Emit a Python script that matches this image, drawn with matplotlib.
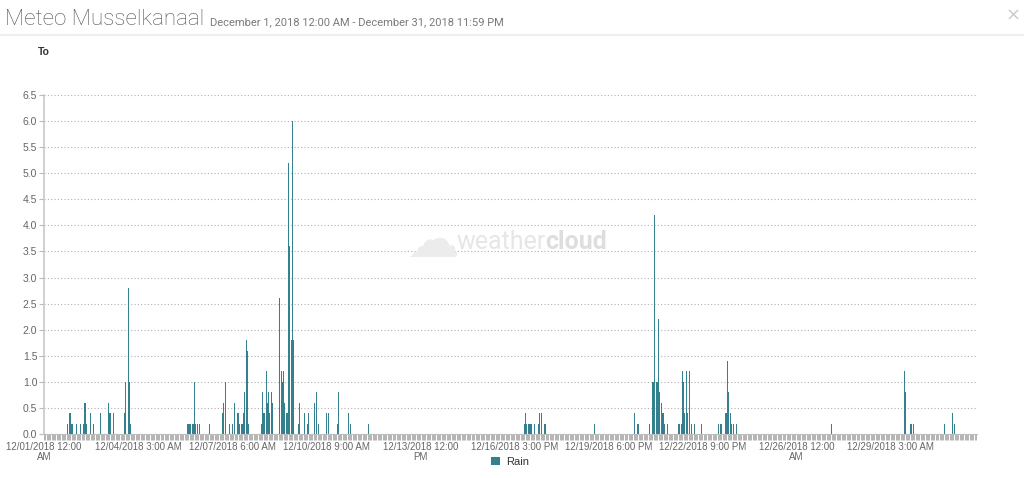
import matplotlib
matplotlib.use("Agg")
import matplotlib.pyplot as plt
from matplotlib.patches import Patch
from matplotlib.lines import Line2D
import numpy as np

# ---- data (hourly rain, December 2018; hour index from 12/01 00:00) ----
n_hours = 744
rain_hours = [19, 20, 21, 22, 23, 26, 29, 31, 32, 33, 34, 37, 39, 45, 51, 52, 53, 55,
              64, 65, 67, 68, 69,
              114, 115, 116, 117, 118, 119, 120, 121, 122, 124, 132,
              142, 143, 145, 148, 150, 152, 154, 155, 156, 157, 158, 159, 160, 161, 162, 163,
              173, 174, 175, 176, 177, 178, 179, 180, 181, 182,
              188, 189, 190, 191, 192, 193, 194, 195, 196, 197, 198, 199,
              203, 204, 208, 210, 211, 216, 217, 219, 225, 227, 234, 235, 243, 244, 259,
              383, 384, 385, 386, 387, 388, 389, 391, 394, 395, 397, 399, 400,
              439, 471, 473, 474, 483,
              485, 486, 487, 488, 489, 490, 491, 492, 493, 494, 495, 497,
              506, 507, 508, 509, 510, 511, 512, 513, 515, 516, 519, 524,
              538, 539, 540, 543, 544, 545, 546, 547, 548, 550, 552,
              628, 686, 687, 691, 692, 693, 718, 724, 726]
rain_mm = [0.2, 0.4, 0.4, 0.2, 0.2, 0.2, 0.2, 0.2, 0.6, 0.6, 0.2, 0.4, 0.2, 0.4, 0.6, 0.4, 0.4, 0.4,
           0.4, 1.0, 2.8, 1.0, 0.2,
           0.2, 0.2, 0.2, 0.2, 0.2, 0.2, 1.0, 0.2, 0.2, 0.2, 0.2,
           0.4, 0.6, 1.0, 0.2, 0.2, 0.6, 0.4, 0.4, 0.2, 0.2, 0.2, 0.4, 0.8, 1.8, 1.6, 0.2,
           0.2, 0.8, 0.4, 0.4, 1.2, 0.6, 0.8, 0.4, 0.8, 0.6,
           2.6, 1.2, 1.0, 1.2, 0.6, 0.4, 0.4, 5.2, 3.6, 1.8, 6.0, 1.8,
           0.2, 0.6, 0.4, 0.2, 0.4, 0.6, 0.8, 0.2, 0.4, 0.4, 0.2, 0.8, 0.4, 0.2, 0.2,
           0.2, 0.4, 0.2, 0.2, 0.2, 0.2, 0.2, 0.2, 0.2, 0.4, 0.4, 0.2, 0.2,
           0.2, 0.4, 0.2, 0.2, 0.2,
           1.0, 1.0, 4.2, 1.0, 1.0, 2.2, 0.8, 0.6, 0.4, 0.4, 0.2, 0.2,
           0.2, 0.2, 0.2, 1.2, 1.0, 0.4, 1.2, 0.4, 1.2, 0.2, 0.2, 0.2,
           0.2, 0.2, 0.2, 0.4, 0.4, 1.4, 0.8, 0.4, 0.2, 0.2, 0.2,
           0.2, 1.2, 0.8, 0.2, 0.2, 0.2, 0.2, 0.4, 0.2]
tick_hours = [0, 75, 150, 225, 300, 375, 450, 525, 600, 675]
tick_labels = ["12/01/2018 12:00\nAM", "12/04/2018 3:00 AM", "12/07/2018 6:00 AM",
               "12/10/2018 9:00 AM", "12/13/2018 12:00\nPM", "12/16/2018 3:00 PM",
               "12/19/2018 6:00 PM", "12/22/2018 9:00 PM", "12/26/2018 12:00\nAM",
               "12/29/2018 3:00 AM"]
y_ticks = [0.0, 0.5, 1.0, 1.5, 2.0, 2.5, 3.0, 3.5, 4.0, 4.5, 5.0, 5.5, 6.0, 6.5]

values = np.zeros(n_hours)
values[rain_hours] = rain_mm

# ---- figure ----
W, H = 1024, 478
fig = plt.figure(figsize=(W / 100, H / 100), dpi=100)
fig.patch.set_facecolor("white")

ax = fig.add_axes([43.5 / W, (H - 434) / H, 933 / W, (434 - 95) / H])
bar_color = "#35808e"
ax.bar(np.arange(n_hours), values, width=0.8, color=bar_color, linewidth=0)

ax.set_xlim(-0.5, n_hours - 0.5)
ax.set_ylim(0, 6.5)
ax.set_yticks(y_ticks)
ax.set_yticklabels([f"{v:.1f}" for v in y_ticks])
ax.yaxis.grid(True, linestyle=(0, (1, 2)), color="#b0b0b0", linewidth=0.8)
ax.set_axisbelow(True)

ax.set_xticks(tick_hours)
ax.set_xticklabels(tick_labels, linespacing=1.0)
ax.set_xticks(np.arange(n_hours), minor=True)

for s in ["top", "right"]:
    ax.spines[s].set_visible(False)
ax.spines["left"].set_color("#c8c8c8")
ax.spines["left"].set_linewidth(1.2)
ax.spines["bottom"].set_color("#bdbdbd")
ax.spines["bottom"].set_linewidth(0.8)

ax.tick_params(axis="y", direction="out", length=3.5, width=0.8, color="#bbbbbb",
               labelcolor="#666666", labelsize=7.5, pad=1)
ax.tick_params(axis="x", which="major", direction="out", length=4, width=0.6,
               color="#a8a8a8", labelcolor="#666666", labelsize=7.0, pad=2)
ax.tick_params(axis="x", which="minor", direction="out", length=4, width=0.6,
               color="#a8a8a8")
for lab in ax.get_xticklabels() + ax.get_yticklabels():
    lab.set_fontfamily("Liberation Sans")

# ---- header ----
fig.text(5 / W, 1 - 25 / H, "Meteo Musselkanaal", fontsize=16.1, color="#555555",
         family="Roboto", fontweight="light", ha="left", va="baseline")
fig.text(210 / W, 1 - 25 / H, "December 1, 2018 12:00 AM - December 31, 2018 11:59 PM",
         fontsize=8, color="#7a7a7a", family="Roboto", ha="left", va="baseline")
fig.text(1013 / W, 1 - 16 / H, "\u00d7", fontsize=13, color="#cccccc", ha="center",
         va="center", family="DejaVu Sans")
fig.add_artist(Line2D([0, 1], [1 - 35 / H, 1 - 35 / H], color="#eeeeee", linewidth=1.5))

fig.text(44 / W, 1 - 52 / H, "To", fontsize=7.5, fontweight="bold", color="#333333",
         family="Liberation Sans", ha="center", va="center")

# ---- watermark ----
fig.text(433 / W, 1 - 242 / H, "\u2601", fontsize=38, color="#ececec", ha="center",
         va="center", family="DejaVu Sans")
t1 = fig.text(456 / W, 1 - 242 / H, "weather", fontsize=18, color="#e6e6e6",
              family="Roboto", ha="left", va="center")
fig.canvas.draw()
bb = t1.get_window_extent(renderer=fig.canvas.get_renderer())
fig.text(bb.x1 / W, 1 - 242 / H, "cloud", fontsize=18, color="#dedede",
         fontweight="bold", family="Roboto", ha="left", va="center")

# ---- legend ----
leg = fig.legend(handles=[Patch(facecolor=bar_color, edgecolor="none", label="Rain")],
                 loc="center", bbox_to_anchor=(510 / W, 1 - 462 / H), frameon=False,
                 handlelength=0.8, handleheight=0.8, handletextpad=0.6,
                 prop=dict(family="Liberation Sans", size=8))
for t in leg.get_texts():
    t.set_color("#333333")

fig.savefig("out.png", dpi=100, facecolor="white")
